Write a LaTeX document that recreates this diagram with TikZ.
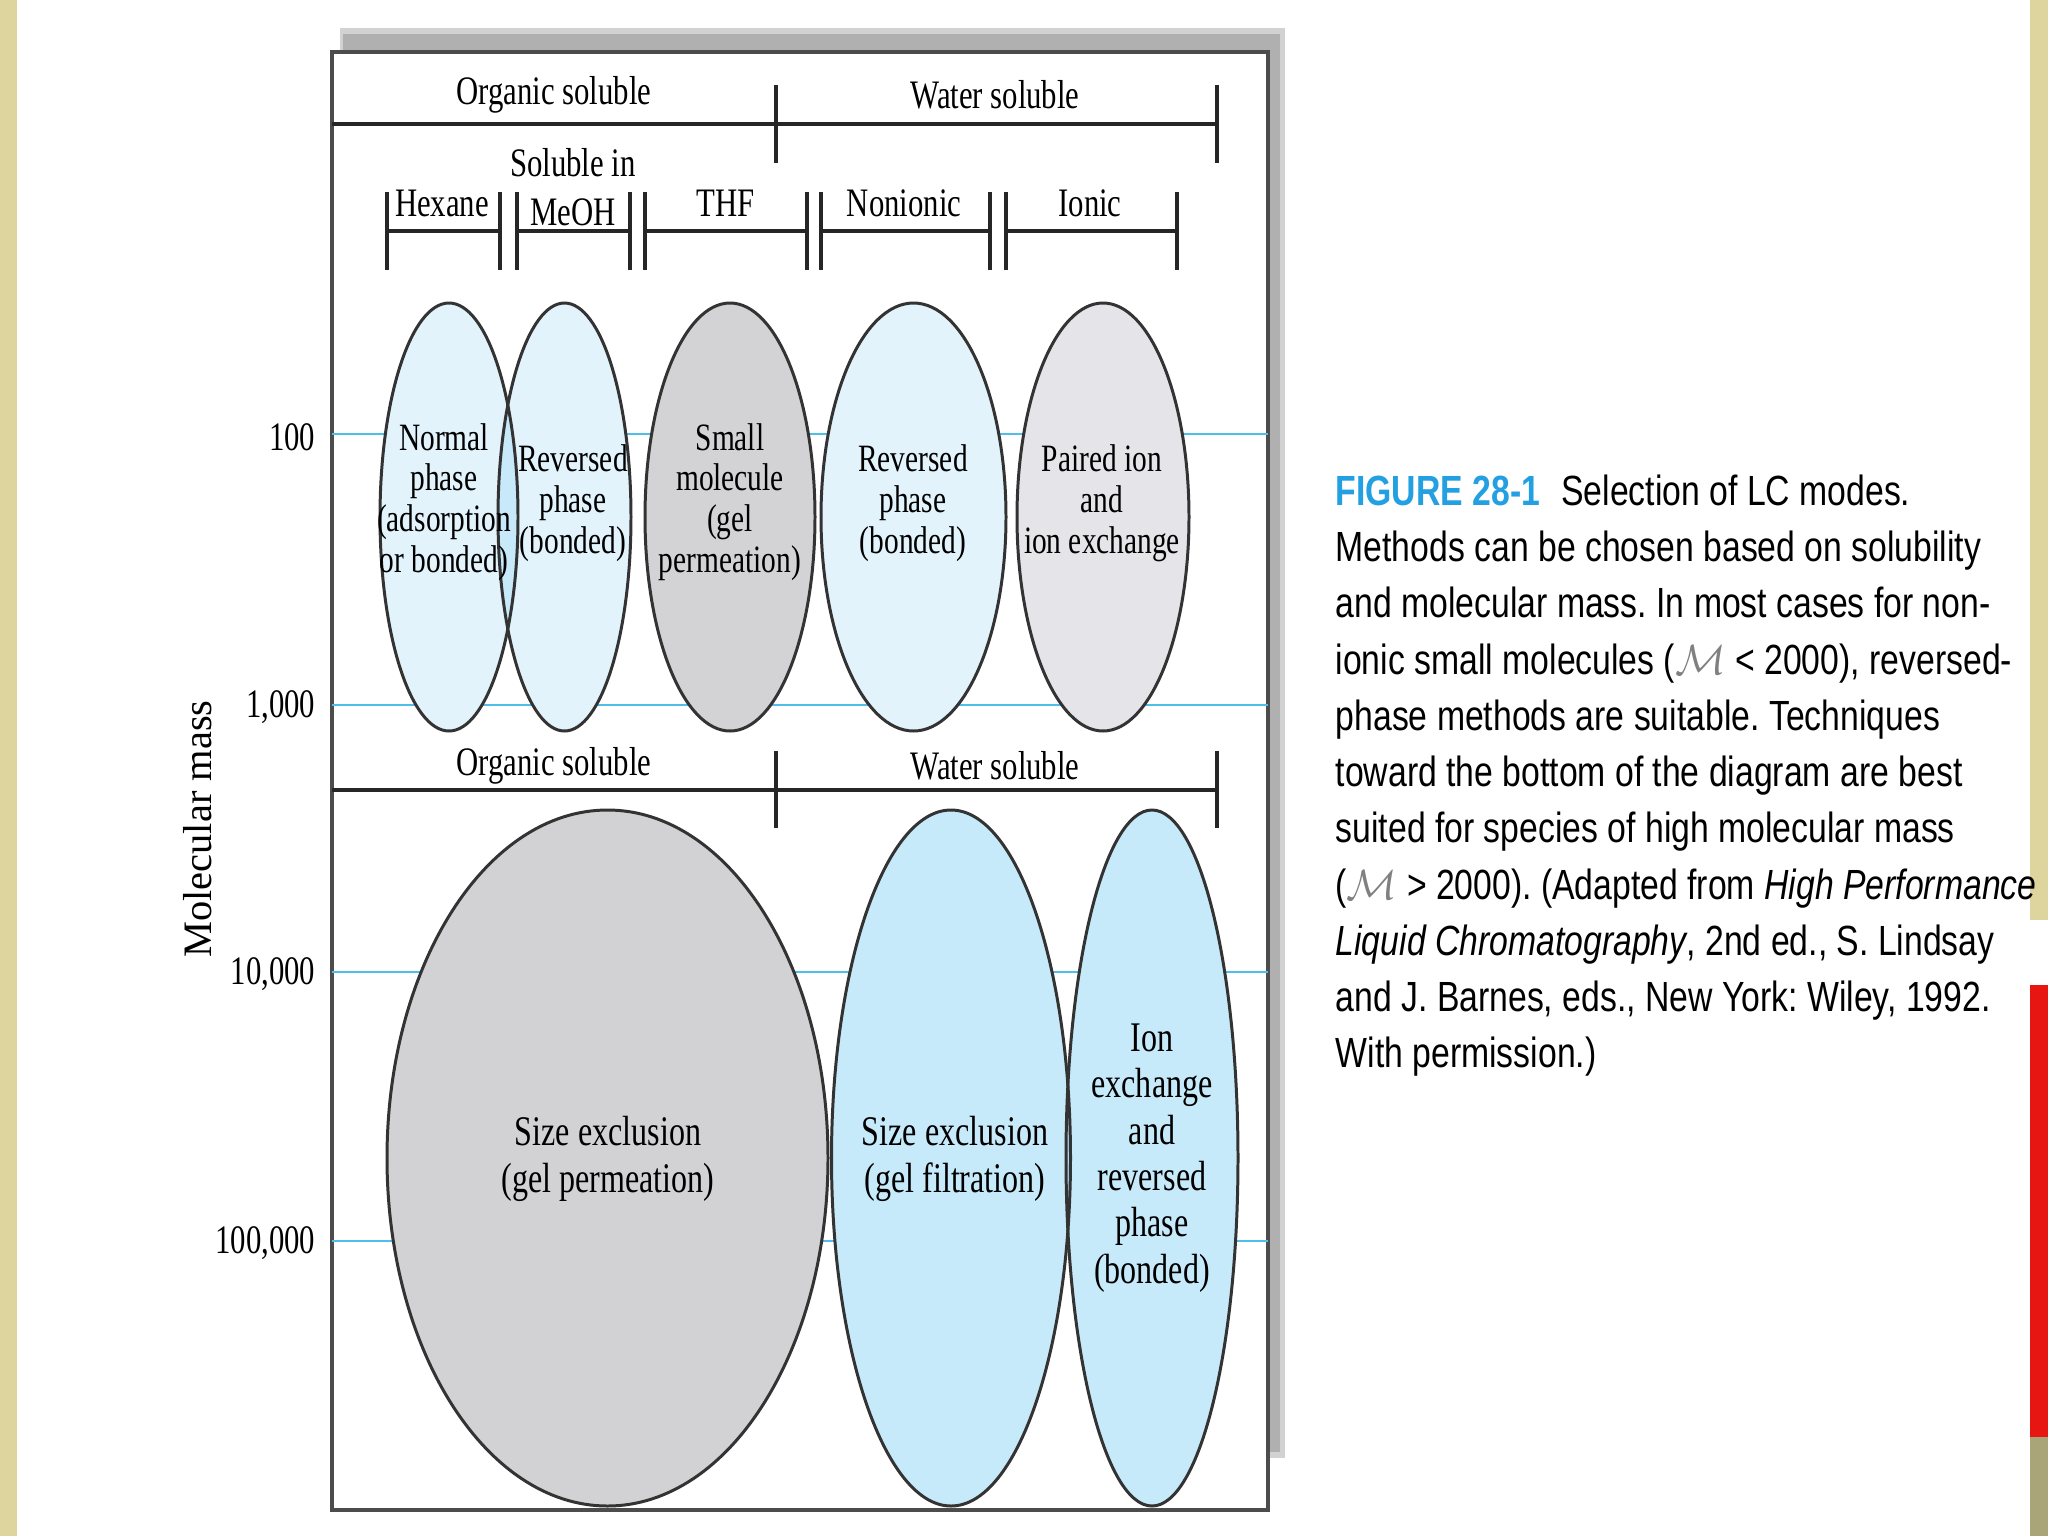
\documentclass[tikz,border=0pt]{standalone}
\usepackage{fontspec}
\newfontfamily\dfont[FakeStretch=0.76]{Liberation Serif}
\newfontfamily\mfont{Liberation Serif}
\newfontfamily\capfont[FakeStretch=0.80]{Liberation Sans}
\definecolor{lineblue}{RGB}{80,190,235}
\definecolor{ellblue}{RGB}{226,243,252}
\definecolor{ellblueov}{RGB}{200,233,250}
\definecolor{ellgray}{RGB}{211,211,213}
\definecolor{ellgraylt}{RGB}{229,229,233}
\definecolor{botgray}{RGB}{210,210,212}
\definecolor{botblue}{RGB}{198,234,250}
\definecolor{botblueov}{RGB}{172,220,244}
\definecolor{tan}{RGB}{222,212,158}
\definecolor{olive}{RGB}{170,165,120}
\definecolor{redpatch}{RGB}{232,22,18}
\definecolor{capblue}{RGB}{35,160,225}
\begin{document}
\frenchspacing
\begin{tikzpicture}[x=0.01cm,y=-0.01cm,
  hdr/.style={font=\dfont\fontsize{11.5}{12}\selectfont, inner sep=0},
  etxt/.style={font=\dfont\fontsize{11}{11.6}\selectfont, align=center, inner sep=0},
  btxt/.style={font=\dfont\fontsize{12}{13.2}\selectfont, align=center, inner sep=0},
  ylab/.style={font=\dfont\fontsize{11.5}{12}\selectfont, anchor=east, inner sep=0},
  massline/.style={draw=lineblue, line width=0.6pt},
  bar/.style={line width=0.9pt, draw=black!85},
  ell/.style={draw=black!80, line width=0.85pt}]
\useasboundingbox (0,0) rectangle (2048,1536);
\fill[white] (0,0) rectangle (2048,1536);
% background strips
\fill[tan] (0,0) rectangle (17,1536);
\fill[tan] (2030,0) rectangle (2048,920);
\fill[redpatch] (2030,985) rectangle (2048,1437);
\fill[olive] (2030,1437) rectangle (2048,1536);
% shadow and frame
\fill[gray!35] (340,28) rectangle (1285,1458);
\fill[gray!62] (343,34) rectangle (1280,1452);
\draw[line width=1.1pt, draw=black!70, fill=white] (332,52) rectangle (1268,1510);
% mass lines
\foreach \yy in {434,705,972,1241} \draw[massline] (332,\yy) -- (1268,\yy);
% top ellipses
\fill[ellblue] (449,517) ellipse [x radius=69, y radius=214];
\fill[ellblue] (564.5,517) ellipse [x radius=66.5, y radius=214];
\begin{scope}
  \clip (449,517) ellipse [x radius=69, y radius=214];
  \fill[ellblueov] (564.5,517) ellipse [x radius=66.5, y radius=214];
\end{scope}
\draw[ell] (449,517) ellipse [x radius=69, y radius=214];
\draw[ell] (564.5,517) ellipse [x radius=66.5, y radius=214];
\draw[ell, fill=ellgray] (730,517) ellipse [x radius=85, y radius=214];
\draw[ell, fill=ellblue] (913.5,517) ellipse [x radius=92.5, y radius=214];
\draw[ell, fill=ellgraylt] (1103,517) ellipse [x radius=86, y radius=214];
% bottom ellipses
\draw[ell, fill=botgray] (607.5,1158) ellipse [x radius=220.5, y radius=348];
\fill[botblue] (951,1158) ellipse [x radius=119.5, y radius=348];
\fill[botblue] (1152,1158) ellipse [x radius=86, y radius=348];
\begin{scope}
  \clip (951,1158) ellipse [x radius=119.5, y radius=348];
  \fill[botblueov] (1152,1158) ellipse [x radius=86, y radius=348];
\end{scope}
\draw[ell] (951,1158) ellipse [x radius=119.5, y radius=348];
\draw[ell] (1152,1158) ellipse [x radius=86, y radius=348];
% header 1
\draw[bar] (332,124) -- (1217,124);
\draw[bar] (776,85) -- (776,163);
\draw[bar] (1217,85) -- (1217,163);
\node[hdr] (org1) at (554,95) {Organic soluble};
\node[hdr] (wat1) at (995,95) {Water soluble};
% sub headers
\foreach \a/\b in {387/500,517/630,645/807,821/990,1006/1177}
  \draw[bar] (\a,192) -- (\a,270) (\a,231) -- (\b,231) (\b,192) -- (\b,270);
\node[hdr] (hex) at (442,203) {Hexane};
\node[hdr] (solin) at (573,163) {Soluble in};
\node[hdr] (meoh) at (573,212) {MeOH};
\node[hdr] (thf) at (726,203) {THF};
\node[hdr] (nonion) at (904,203) {Nonionic};
\node[hdr] (ionic) at (1090,203) {Ionic};
% header 2
\draw[bar] (332,790) -- (1217,790);
\draw[bar] (776,751) -- (776,828);
\draw[bar] (1217,751) -- (1217,828);
\node[hdr] (org2) at (554,766) {Organic soluble};
\node[hdr] (wat2) at (995,766) {Water soluble};
% ellipse texts
\node[etxt] (t1) at (444,502) {Normal\\phase\\(adsorption\\or bonded)};
\node[etxt] (t2) at (573,503) {Reversed\\phase\\(bonded)};
\node[etxt] (t3) at (730,502) {Small\\molecule\\(gel\\permeation)};
\node[etxt] (t4) at (913,503) {Reversed\\phase\\(bonded)};
\node[etxt] (t5) at (1102,503) {Paired ion\\and\\ion exchange};
\node[btxt] (b1) at (608,1159) {Size exclusion\\(gel permeation)};
\node[btxt] (b2) at (955,1159) {Size exclusion\\(gel filtration)};
\node[btxt] (b3) at (1152,1158) {Ion\\exchange\\and\\reversed\\phase\\(bonded)};
% axis labels
\node[ylab] (y1) at (316,437) {100};
\node[ylab] (y2) at (316,707) {1,000};
\node[ylab] (y3) at (316,974) {10,000};
\node[ylab] (y4) at (316,1243) {100,000};
\node[font=\mfont\fontsize{11.5}{12}\selectfont, rotate=90, inner sep=0] (ymass) at (198,829) {Molecular mass};
% caption
\node[anchor=north west, inner sep=0, align=left, font=\capfont\fontsize{12}{16}\selectfont] (cap) at (1335,474)
{{\color{capblue}\bfseries FIGURE 28-1}\hspace{0.5em}Selection of LC modes.\\
Methods can be chosen based on solubility\\
and molecular mass. In most cases for non-\\
ionic small molecules ({\color{gray}$\mathcal{M}$} < 2000), reversed-\\
phase methods are suitable. Techniques\\
toward the bottom of the diagram are best\\
suited for species of high molecular mass\\
({\color{gray}$\mathcal{M}$} > 2000). (Adapted from \textit{High Performance}\\
\textit{Liquid Chromatography}, 2nd ed., S. Lindsay\\
and J. Barnes, eds., New York: Wiley, 1992.\\
With permission.)};
\end{tikzpicture}
\end{document}
